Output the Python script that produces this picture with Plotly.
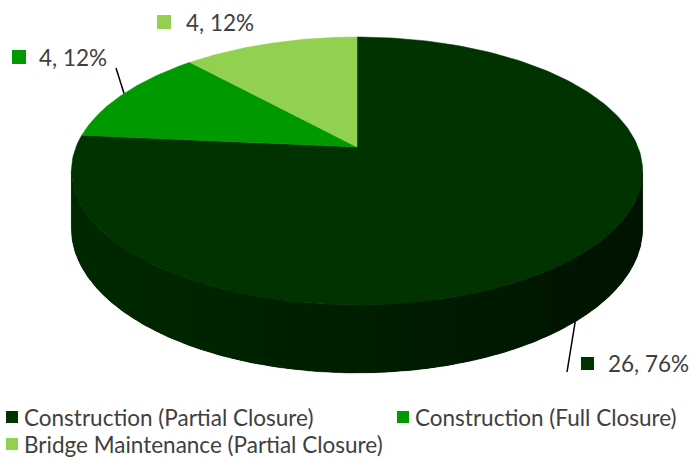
import numpy as np
import plotly.graph_objects as go

# ---- data ----
categories = ["Construction (Partial Closure)", "Construction (Full Closure)",
              "Bridge Maintenance (Partial Closure)"]
values = [26, 4, 4]
colors = ["#003300", "#009900", "#92D050"]

total = sum(values)
percents = [round(100 * v / total) for v in values]
label_texts = [f"{v}, {p}%" for v, p in zip(values, percents)]

# ---- 3D pie geometry (pixel space, perspective) ----
CX, CY = 357.0, 147.0      # apex of the slices
A, B = 281.0, 129.7        # radii
K = 0.179                  # perspective factor
D = 55.8                   # depth of the pie


def proj(theta_deg, h=0.0):
    t = np.radians(theta_deg)
    u, v = np.sin(t), np.cos(t)
    w = 1 + K * v
    return CX + A * u / w, CY - (B * v - D * h) / w


def lerp_color(c1, c2, f):
    a = [int(c1[i:i + 2], 16) for i in (1, 3, 5)]
    b = [int(c2[i:i + 2], 16) for i in (1, 3, 5)]
    return "#" + "".join(f"{int(round(x + (y - x) * f)):02x}" for x, y in zip(a, b))


fig = go.Figure()

# slice angle ranges (clockwise from 12 o'clock)
cum = np.cumsum([0] + values) / total * 360.0
starts, ends = cum[:-1], cum[1:]

# visible side wall range
sil = np.degrees(np.arccos(-K))
vis_lo, vis_hi = sil, 360 - sil

side_dark = {"#003300": ("#002900", "#001300")}
for i, (s, e) in enumerate(zip(starts, ends)):
    lo, hi = max(s, vis_lo), min(e, vis_hi)
    if hi <= lo:
        continue
    c_left, c_right = side_dark.get(colors[i], (colors[i], colors[i]))
    # base wall
    th = np.linspace(lo, hi, 200)
    xt, yt = proj(th, 0)
    xb, yb = proj(th[::-1], 1)
    base = lerp_color(c_right, c_left, 0.5)
    fig.add_trace(go.Scatter(x=np.concatenate([xt, xb, xt[:1]]),
                             y=np.concatenate([yt, yb, yt[:1]]),
                             mode="lines", fill="toself", fillcolor=base,
                             line=dict(color=base, width=0.5),
                             hoverinfo="skip", showlegend=False))
    # shading strips (slightly overlapping)
    n = 48
    edges = np.linspace(lo, hi, n + 1)
    step = edges[1] - edges[0]
    for j in range(n):
        a0, a1 = edges[j], min(edges[j + 1] + 0.6 * step, hi)
        th = np.linspace(a0, a1, 6)
        xt, yt = proj(th, 0)
        xb, yb = proj(th[::-1], 1)
        xm, _ = proj((edges[j] + edges[j + 1]) / 2)
        f = (CX + A + 10 - xm) / (2 * A + 20)   # 0 right -> 1 left
        col = lerp_color(c_right, c_left, f)
        fig.add_trace(go.Scatter(x=np.concatenate([xt, xb, xt[:1]]),
                                 y=np.concatenate([yt, yb, yt[:1]]),
                                 mode="lines", fill="toself",
                                 fillcolor=col, line=dict(width=0),
                                 hoverinfo="skip", showlegend=False))

# top faces
for i, (s, e) in enumerate(zip(starts, ends)):
    th = np.linspace(s, e, 240)
    xa, ya = proj(th, 0)
    xs = np.concatenate([[CX], xa, [CX]])
    ys = np.concatenate([[CY], ya, [CY]])
    fig.add_trace(go.Scatter(x=xs, y=ys, mode="lines", fill="toself",
                             fillcolor=colors[i], line=dict(color=colors[i], width=0.5),
                             name=categories[i], hoverinfo="name", showlegend=False))

# ---- data labels ----
TXT = "#404040"
FONT = "Lato"
label_pos = [(606, 363), (37, 57), (184, 22)]        # text left/middle
label_sq = [(581, 357, 13), (12, 50, 14), (157, 15, 14)]
leader_end = [(567, 372), (116, 68), None]
leader_h = [1, 0, 0]

shapes = []
annotations = []
for i in range(len(values)):
    tx, ty = label_pos[i]
    annotations.append(dict(x=tx, y=ty, xref="x", yref="y", text=label_texts[i],
                            showarrow=False, xanchor="left", yanchor="middle",
                            font=dict(family=FONT, size=22.5, color=TXT)))
    sx, sy, ss = label_sq[i]
    shapes.append(dict(type="rect", xref="x", yref="y", x0=sx, y0=sy, x1=sx + ss,
                       y1=sy + ss, fillcolor=colors[i], line=dict(width=0)))
    if leader_end[i] is not None:
        mid = (starts[i] + ends[i]) / 2
        px, py = proj(mid, leader_h[i])
        ex, ey = leader_end[i]
        fig.add_trace(go.Scatter(x=[px, ex], y=[py, ey], mode="lines",
                                 line=dict(color="#000000", width=1.5),
                                 hoverinfo="skip", showlegend=False))

# ---- legend ----
legend_pos = [(6, 411), (397, 411), (6, 438)]
for i, cat in enumerate(categories):
    lx, ly = legend_pos[i]
    shapes.append(dict(type="rect", xref="x", yref="y", x0=lx, y0=ly, x1=lx + 12,
                       y1=ly + 12, fillcolor=colors[i], line=dict(width=0)))
    annotations.append(dict(x=lx + 16, y=ly + 6, xref="x", yref="y", text=cat,
                            showarrow=False, xanchor="left", yanchor="middle",
                            font=dict(family=FONT, size=22.5, color=TXT)))

fig.update_layout(
    width=696, height=457,
    margin=dict(l=0, r=0, t=0, b=0),
    paper_bgcolor="white", plot_bgcolor="white",
    xaxis=dict(range=[0, 696], visible=False, fixedrange=True),
    yaxis=dict(range=[457, 0], visible=False, fixedrange=True),
    shapes=shapes, annotations=annotations, showlegend=False,
)

fig.write_html("out.html", config={"displayModeBar": False},
               post_script="document.body.style.margin='0';"
                           "document.body.style.overflow='hidden';")
